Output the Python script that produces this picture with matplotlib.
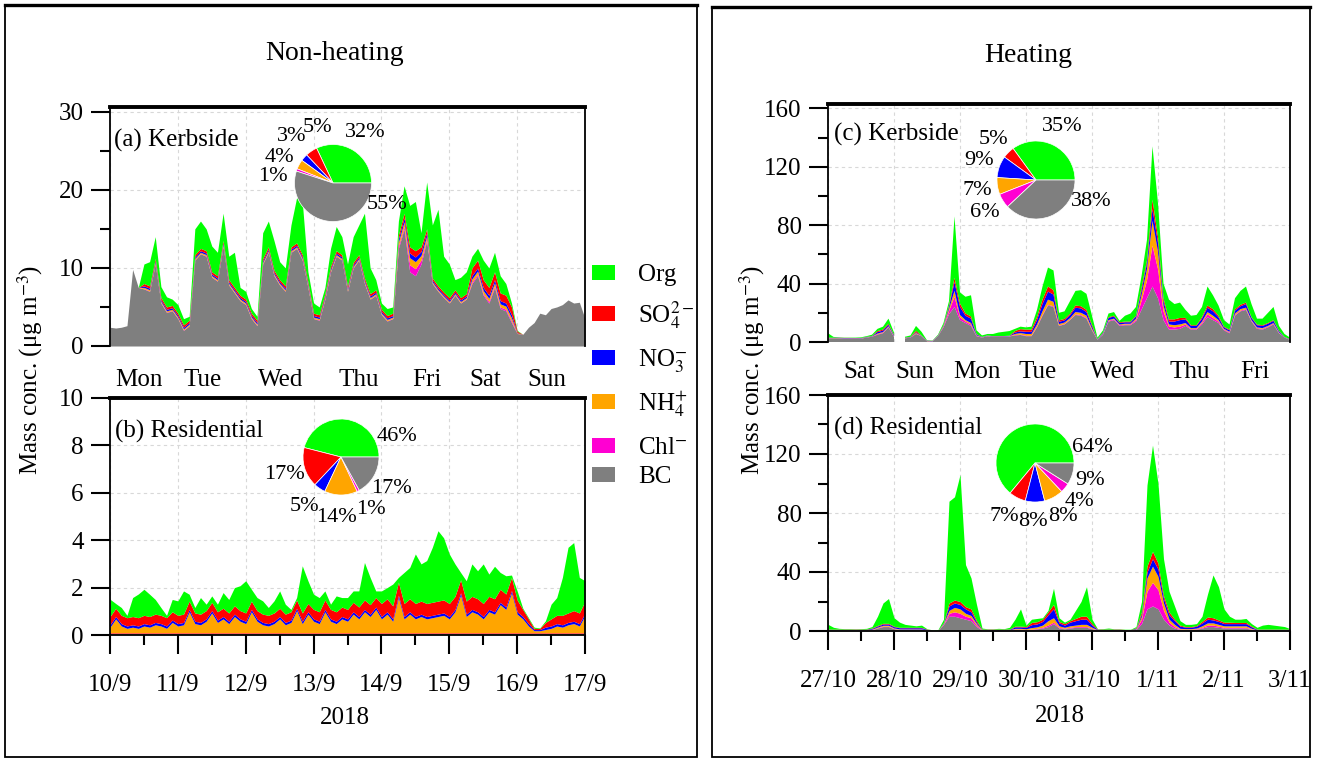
import numpy as np
import matplotlib
matplotlib.use("Agg")
import matplotlib.pyplot as plt
from matplotlib.patches import Rectangle
from matplotlib.lines import Line2D

plt.rcParams["font.family"] = "serif"
plt.rcParams["font.serif"] = ["Liberation Serif", "DejaVu Serif"]
plt.rcParams["mathtext.fontset"] = "stix"

nan = np.nan
STEP_H = 2  # sampling step of the series, hours

species = ["Org", "SO$_4^{2-}$", "NO$_3^{-}$", "NH$_4^{+}$", "Chl$^{-}$", "BC"]
species_colors = ["#00ff00", "#ff0000", "#0000ff", "#ffa500", "#ff00d2", "#7f7f7f"]

days_a = ["Mon", "Tue", "Wed", "Thu", "Fri", "Sat", "Sun"]
days_c = ["Sat", "Sun", "Mon", "Tue", "Wed", "Thu", "Fri"]
dates_b = ["10/9", "11/9", "12/9", "13/9", "14/9", "15/9", "16/9", "17/9"]
dates_d = ["27/10", "28/10", "29/10", "30/10", "31/10", "1/11", "2/11", "3/11"]

# pie shares, %: Org, SO4, NO3, NH4, Chl, BC
pie_a = [32, 5, 3, 4, 1, 55]
pie_b = [46, 17, 5, 14, 1, 17]
pie_c = [35, 5, 9, 7, 6, 38]
pie_d = [64, 7, 8, 8, 4, 9]

# ---- (a) kerbside, non-heating ----
bc_a = [
    2.4, 2.3, 2.4, 2.6, 9.8, 7.5, 7.3, 7.0, 10.5, 5.5, 4.3, 4.5,
    3.5, 2.0, 2.6, 11.0, 11.8, 11.5, 8.8, 8.3, 12.8, 7.8, 6.8, 5.8,
    5.3, 3.5, 2.6, 10.5, 12.0, 9.0, 7.8, 7.0, 12.0, 12.5, 11.0, 7.5,
    3.5, 3.3, 6.0, 9.5, 11.5, 11.0, 7.0, 10.0, 11.0, 8.0, 6.0, 6.5,
    4.0, 3.2, 3.5, 12.5, 15.0, 9.5, 9.0, 10.5, 13.5, 8.0, 7.0, 6.2,
    5.5, 6.5, 5.5, 6.0, 8.0, 9.0, 6.5, 5.5, 7.5, 4.8, 4.5, 3.0,
    1.6, 1.5, 2.4, 3.0, 4.2, 4.0, 4.8, 5.0, 5.3, 5.9, 5.5, 5.6,
    3.5,
]
chl_a = [
    nan, nan, nan, nan, nan, nan, 0.05, 0.05, 0.05, 0.05, 0.05, 0.05,
    0.05, 0.05, 0.05, 0.05, 0.05, 0.05, 0.05, 0.05, 0.05, 0.05, 0.05, 0.05,
    0.05, 0.05, 0.05, 0.05, 0.05, 0.05, 0.05, 0.05, 0.05, 0.05, 0.05, 0.05,
    0.05, 0.05, 0.05, 0.05, 0.05, 0.05, 0.05, 0.05, 0.05, 0.05, 0.05, 0.05,
    0.05, 0.05, 0.05, 0.3, 0.3, 0.9, 0.9, 0.5, 0.2, 0.05, 0.05, 0.05,
    0.05, 0.05, 0.05, 0.05, 0.2, 0.2, 0.2, 0.2, 0.2, 0.2, 0.2, 0.2,
    0.0, nan, nan, nan, nan, nan, nan, nan, nan, nan, nan, nan,
    nan,
]
nh4_a = [
    nan, nan, nan, nan, nan, nan, 0.15, 0.15, 0.15, 0.15, 0.15, 0.15,
    0.15, 0.15, 0.15, 0.15, 0.15, 0.15, 0.15, 0.15, 0.15, 0.15, 0.15, 0.15,
    0.15, 0.15, 0.15, 0.15, 0.15, 0.15, 0.15, 0.15, 0.15, 0.15, 0.15, 0.15,
    0.15, 0.15, 0.15, 0.15, 0.15, 0.15, 0.15, 0.15, 0.15, 0.15, 0.15, 0.15,
    0.15, 0.15, 0.15, 0.5, 0.6, 0.9, 0.9, 0.6, 0.4, 0.15, 0.15, 0.15,
    0.15, 0.15, 0.15, 0.15, 0.4, 0.4, 0.4, 0.4, 0.4, 0.4, 0.4, 0.4,
    0.05, nan, nan, nan, nan, nan, nan, nan, nan, nan, nan, nan,
    nan,
]
no3_a = [
    nan, nan, nan, nan, nan, nan, 0.2, 0.2, 0.2, 0.2, 0.2, 0.2,
    0.2, 0.2, 0.2, 0.2, 0.2, 0.2, 0.2, 0.2, 0.2, 0.2, 0.2, 0.2,
    0.2, 0.2, 0.2, 0.2, 0.2, 0.2, 0.2, 0.2, 0.2, 0.2, 0.2, 0.2,
    0.2, 0.2, 0.2, 0.2, 0.2, 0.2, 0.2, 0.2, 0.2, 0.2, 0.2, 0.2,
    0.2, 0.2, 0.2, 0.4, 0.5, 0.6, 0.6, 0.5, 0.4, 0.2, 0.2, 0.2,
    0.2, 0.2, 0.2, 0.2, 0.4, 0.4, 0.4, 0.4, 0.4, 0.4, 0.4, 0.4,
    0.05, nan, nan, nan, nan, nan, nan, nan, nan, nan, nan, nan,
    nan,
]
so4_a = [
    nan, nan, nan, nan, nan, nan, 0.3, 0.3, 0.3, 0.3, 0.3, 0.3,
    0.3, 0.3, 0.3, 0.3, 0.3, 0.3, 0.3, 0.3, 0.3, 0.3, 0.3, 0.3,
    0.3, 0.3, 0.3, 0.3, 0.3, 0.3, 0.3, 0.3, 0.3, 0.3, 0.3, 0.3,
    0.3, 0.3, 0.3, 0.3, 0.3, 0.3, 0.3, 0.3, 0.3, 0.3, 0.3, 0.3,
    0.3, 0.3, 0.3, 0.5, 0.6, 0.8, 0.8, 0.6, 0.5, 0.3, 0.3, 0.3,
    0.3, 0.3, 0.3, 0.3, 1.0, 1.0, 1.0, 1.0, 1.0, 1.0, 1.0, 1.0,
    0.2, nan, nan, nan, nan, nan, nan, nan, nan, nan, nan, nan,
    nan,
]
org_a = [
    nan, nan, nan, nan, nan, nan, 2.5, 3.1, 2.8, 1.4, 1.3, 0.8,
    1.1, 0.8, 0.5, 3.3, 3.5, 2.8, 3.3, 3.0, 3.5, 3.0, 4.5, 1.0,
    1.0, 0.6, 0.5, 3.3, 3.3, 3.8, 2.3, 2.3, 2.8, 5.8, 6.8, 1.3,
    1.3, 1.0, 0.8, 2.3, 3.1, 2.3, 2.8, 3.3, 3.8, 8.3, 3.3, 1.3,
    0.8, 0.9, 0.8, 1.8, 3.5, 5.3, 6.3, 1.8, 6.0, 6.8, 9.8, 4.6,
    4.3, 1.3, 2.6, 2.8, 1.5, 1.5, 2.5, 2.5, 2.5, 2.2, 1.5, 0.5,
    0.1, nan, nan, nan, nan, nan, nan, nan, nan, nan, nan, nan,
    nan,
]

# ---- (b) residential, non-heating ----
bc_b = [
    0.05, 0.05, 0.05, 0.05, 0.05, 0.05, 0.05, 0.05, 0.05, 0.05, 0.05, 0.05,
    0.05, 0.05, 0.05, 0.05, 0.05, 0.05, 0.05, 0.05, 0.05, 0.05, 0.05, 0.05,
    0.05, 0.05, 0.05, 0.05, 0.05, 0.05, 0.05, 0.05, 0.05, 0.05, 0.05, 0.05,
    0.05, 0.05, 0.05, 0.05, 0.05, 0.05, 0.05, 0.05, 0.05, 0.05, 0.05, 0.05,
    0.05, 0.05, 0.05, 0.05, 0.05, 0.05, 0.05, 0.05, 0.05, 0.05, 0.05, 0.05,
    0.05, 0.05, 0.05, 0.05, 0.05, 0.05, 0.05, 0.05, 0.05, 0.05, 0.05, 0.05,
    0.05, 0.05, 0.05, 0.05, 0.05, 0.05, 0.05, 0.05, 0.05, 0.05, 0.05, 0.05,
    0.05,
]
chl_b = [
    0.03, 0.03, 0.03, 0.03, 0.03, 0.03, 0.03, 0.03, 0.03, 0.03, 0.03, 0.03,
    0.03, 0.03, 0.03, 0.03, 0.03, 0.03, 0.03, 0.03, 0.03, 0.03, 0.03, 0.03,
    0.03, 0.03, 0.03, 0.03, 0.03, 0.03, 0.03, 0.03, 0.03, 0.03, 0.03, 0.03,
    0.03, 0.03, 0.03, 0.03, 0.03, 0.03, 0.03, 0.03, 0.03, 0.03, 0.03, 0.03,
    0.03, 0.03, 0.03, 0.03, 0.03, 0.03, 0.03, 0.03, 0.03, 0.03, 0.03, 0.03,
    0.03, 0.03, 0.03, 0.03, 0.03, 0.03, 0.03, 0.03, 0.03, 0.03, 0.03, 0.03,
    0.03, 0.03, 0.03, 0.03, 0.03, 0.03, 0.03, 0.03, 0.03, 0.03, 0.03, 0.03,
    0.03,
]
nh4_b = [
    0.25, 0.6, 0.3, 0.2, 0.25, 0.2, 0.3, 0.25, 0.35, 0.3, 0.2, 0.45,
    0.3, 0.35, 0.9, 0.4, 0.35, 0.5, 0.85, 0.45, 0.6, 0.4, 0.7, 0.5,
    0.4, 0.9, 0.5, 0.35, 0.3, 0.4, 0.6, 0.35, 0.45, 0.95, 0.4, 0.8,
    0.5, 0.4, 0.9, 0.5, 0.4, 0.6, 0.5, 0.8, 0.6, 0.9, 0.7, 1.0,
    0.6, 0.8, 0.5, 1.5, 0.6, 0.8, 0.6, 0.7, 0.6, 0.65, 0.7, 0.75,
    0.6, 0.9, 1.6, 0.7, 0.9, 0.8, 0.6, 0.9, 0.8, 1.2, 1.0, 1.7,
    0.8, 0.6, 0.3, 0.1, 0.1, 0.15, 0.2, 0.3, 0.25, 0.35, 0.4, 0.3,
    0.75,
]
no3_b = [
    0.1, 0.1, 0.1, 0.1, 0.1, 0.1, 0.1, 0.1, 0.1, 0.1, 0.1, 0.1,
    0.1, 0.1, 0.1, 0.1, 0.1, 0.1, 0.1, 0.1, 0.1, 0.1, 0.1, 0.1,
    0.1, 0.1, 0.1, 0.1, 0.1, 0.1, 0.1, 0.1, 0.1, 0.1, 0.1, 0.1,
    0.1, 0.1, 0.1, 0.1, 0.1, 0.1, 0.1, 0.1, 0.1, 0.1, 0.1, 0.1,
    0.1, 0.1, 0.1, 0.1, 0.1, 0.1, 0.1, 0.1, 0.1, 0.1, 0.1, 0.1,
    0.1, 0.1, 0.1, 0.1, 0.1, 0.1, 0.1, 0.1, 0.1, 0.1, 0.1, 0.1,
    0.1, 0.1, 0.1, 0.05, 0.05, 0.1, 0.1, 0.1, 0.1, 0.1, 0.1, 0.1,
    0.1,
]
so4_b = [
    0.35, 0.35, 0.35, 0.35, 0.35, 0.35, 0.35, 0.35, 0.35, 0.35, 0.35, 0.35,
    0.35, 0.35, 0.35, 0.35, 0.35, 0.35, 0.35, 0.35, 0.35, 0.35, 0.35, 0.35,
    0.35, 0.35, 0.35, 0.35, 0.35, 0.35, 0.35, 0.35, 0.35, 0.35, 0.35, 0.35,
    0.4, 0.4, 0.4, 0.4, 0.4, 0.4, 0.4, 0.4, 0.4, 0.4, 0.4, 0.4,
    0.55, 0.55, 0.55, 0.55, 0.55, 0.55, 0.55, 0.55, 0.55, 0.55, 0.55, 0.55,
    0.55, 0.55, 0.55, 0.55, 0.55, 0.55, 0.55, 0.55, 0.55, 0.55, 0.55, 0.55,
    0.5, 0.3, 0.2, 0.05, 0.05, 0.2, 0.3, 0.35, 0.4, 0.4, 0.45, 0.45,
    0.5,
]
org_b = [
    0.73, 0.2, 0.33, 0.1, 0.8, 1.0, 1.1, 0.94, 0.62, 0.33, 0.1, 0.52,
    0.61, 0.98, 0.29, 0.23, 0.7, 0.27, 0.27, 0.32, 0.66, 0.57, 0.77, 1.05,
    1.36, 0.5, 0.55, 0.56, 0.33, 0.51, 0.73, 0.42, 0.1, 0.1, 1.99, 0.96,
    0.64, 0.6, 0.38, 0.22, 0.67, 0.4, 0.5, 0.48, 0.68, 1.58, 1.15, 0.28,
    0.53, 0.47, 0.92, 0.2, 1.31, 1.32, 2.09, 1.57, 1.81, 2.32, 2.97, 2.62,
    2.09, 1.37, 0.31, 0.86, 1.37, 1.18, 1.67, 0.94, 1.37, 0.71, 0.77, 0.1,
    0.38, 0.05, 0.05, 0.05, 0.02, 0.07, 0.62, 0.75, 1.6, 2.77, 2.87, 1.5,
    0.86,
]

# ---- (c) kerbside, heating ----
bc_c = [
    2.5, 2.5, 2.5, 2.3, 2.3, 2.2, 2.3, 3.0, 3.6, 5.0, 6.0, 10.0,
    3.5, nan, 2.5, 3.0, 5.5, 4.0, 0.5, 0.3, 4.0, 10.0, 19.0, 24.0,
    15.0, 13.0, 11.0, 4.0, 3.0, 4.0, 3.5, 3.6, 3.6, 3.8, 4.5, 4.8,
    4.0, 4.0, 10.0, 18.0, 25.0, 24.0, 11.0, 12.0, 15.0, 18.5, 18.0, 16.0,
    8.0, 1.5, 5.0, 14.0, 15.0, 11.0, 11.5, 11.5, 14.0, 22.0, 30.0, 38.0,
    30.0, 15.0, 8.5, 8.5, 9.0, 11.0, 8.5, 8.5, 12.0, 17.0, 15.0, 13.0,
    8.0, 6.0, 18.0, 21.0, 22.0, 14.0, 9.0, 8.5, 10.0, 12.0, 6.0, 3.0,
    1.5,
]
chl_c = [
    0.1, 0.1, 0.1, 0.1, 0.1, 0.1, 0.1, 0.1, 0.1, 0.3, 0.3, 0.3,
    0.2, nan, 0.1, 0.1, 0.2, 0.1, 0.1, 0.1, 0.1, 0.5, 2.0, 7.0,
    2.0, 1.0, 1.0, 0.3, 0.1, 0.1, 0.1, 0.1, 0.1, 0.1, 0.3, 0.3,
    0.3, 0.3, 0.5, 0.5, 0.5, 0.5, 0.3, 0.3, 0.3, 0.5, 0.5, 0.5,
    0.3, 0.1, 0.3, 0.5, 0.5, 0.5, 0.5, 0.5, 1.0, 6.0, 12.0, 28.0,
    20.0, 6.0, 2.0, 1.5, 1.5, 1.0, 0.5, 0.5, 1.0, 2.0, 1.5, 1.0,
    0.5, 0.5, 0.5, 0.5, 0.5, 0.5, 0.5, 0.5, 0.5, 0.5, 0.3, 0.1,
    0.1,
]
nh4_c = [
    0.1, 0.1, 0.1, 0.1, 0.1, 0.1, 0.1, 0.1, 0.1, 0.5, 0.5, 0.5,
    0.3, nan, 0.1, 0.1, 0.5, 0.1, 0.1, 0.1, 0.1, 0.3, 1.5, 4.0,
    1.5, 1.0, 1.0, 0.3, 0.1, 0.1, 0.1, 0.1, 0.1, 0.1, 0.7, 1.0,
    1.2, 1.2, 1.5, 2.5, 3.5, 3.0, 1.0, 1.0, 1.0, 1.5, 1.5, 1.5,
    1.0, 0.1, 0.3, 0.5, 0.5, 0.5, 0.5, 0.5, 1.0, 4.0, 8.0, 17.0,
    12.0, 4.0, 1.5, 1.5, 1.5, 1.0, 0.5, 0.5, 1.0, 1.5, 1.5, 1.0,
    0.5, 0.5, 1.0, 1.0, 1.0, 0.5, 0.5, 0.5, 0.5, 0.5, 0.3, 0.1,
    0.1,
]
no3_c = [
    0.2, 0.2, 0.2, 0.2, 0.2, 0.2, 0.2, 0.2, 0.2, 1.0, 1.0, 1.0,
    0.6, nan, 0.2, 0.2, 0.5, 0.2, 0.2, 0.2, 0.2, 0.4, 1.5, 6.0,
    5.5, 3.0, 3.0, 0.6, 0.2, 0.2, 0.2, 0.2, 0.2, 0.2, 1.0, 1.2,
    1.5, 1.5, 3.0, 5.0, 5.5, 5.0, 1.5, 1.5, 2.0, 3.0, 3.0, 2.5,
    1.5, 0.2, 0.6, 1.5, 1.5, 1.0, 1.0, 1.0, 1.5, 3.0, 4.0, 8.0,
    6.0, 3.0, 2.0, 2.5, 3.0, 2.5, 1.5, 1.5, 2.0, 3.0, 3.0, 2.0,
    1.0, 1.0, 2.0, 2.0, 2.5, 1.5, 1.5, 1.5, 1.5, 1.5, 0.8, 0.2,
    0.2,
]
so4_c = [
    0.1, 0.1, 0.1, 0.1, 0.1, 0.1, 0.1, 0.1, 0.1, 0.7, 0.7, 0.7,
    0.4, nan, 0.1, 0.1, 1.0, 0.1, 0.1, 0.1, 0.1, 0.3, 1.0, 3.0,
    2.4, 1.5, 1.5, 0.3, 0.1, 0.1, 0.1, 0.1, 0.1, 0.1, 1.0, 1.5,
    1.5, 1.5, 2.0, 3.0, 3.5, 3.0, 1.0, 1.0, 1.0, 1.5, 1.5, 1.5,
    1.0, 0.1, 0.3, 0.5, 0.5, 0.5, 0.5, 0.5, 0.5, 2.0, 2.0, 6.5,
    4.0, 2.0, 1.5, 1.5, 1.5, 1.0, 0.5, 0.5, 1.0, 1.5, 1.5, 1.0,
    0.5, 0.5, 1.0, 1.0, 1.0, 0.5, 0.5, 0.5, 0.5, 0.5, 0.3, 0.1,
    0.1,
]
org_c = [
    3.0, 0.5, 0.2, 0.2, 0.2, 0.3, 0.4, 0.5, 0.9, 1.5, 2.0, 3.5,
    1.5, nan, 0.6, 1.0, 3.3, 2.5, 0.2, 0.2, 0.5, 1.5, 3.0, 42.0,
    7.6, 11.5, 14.5, 2.5, 1.0, 1.0, 1.5, 2.4, 2.9, 3.2, 1.5, 1.7,
    1.5, 2.0, 5.0, 9.0, 13.0, 13.5, 5.2, 5.2, 8.7, 10.0, 11.0, 11.0,
    6.2, 1.0, 1.5, 2.5, 2.5, 1.0, 4.0, 5.5, 6.0, 8.0, 14.0, 36.5,
    23.0, 10.0, 13.5, 10.5, 10.5, 5.5, 6.5, 7.0, 7.0, 13.0, 9.5, 7.0,
    4.5, 3.5, 7.5, 9.5, 11.0, 9.0, 4.0, 4.5, 7.0, 9.0, 3.3, 2.0,
    1.0,
]

# ---- (d) residential, heating ----
bc_d = [
    0.5, 0.5, 0.5, 0.5, 0.5, 0.5, 0.5, 0.5, 0.8, 2.0, 3.0, 3.0,
    1.5, 1.0, 1.0, 1.0, 1.0, 1.0, 0.5, 0.3, 0.3, 4.5, 10.0, 10.0,
    9.0, 8.0, 7.0, 3.0, 0.5, 0.5, 0.5, 0.5, 0.5, 0.5, 1.0, 1.0,
    0.8, 1.0, 1.5, 2.0, 3.0, 5.0, 2.0, 1.5, 2.0, 2.5, 2.5, 2.5,
    1.5, 0.5, 0.5, 0.5, 0.5, 0.5, 0.4, 0.4, 1.0, 5.0, 15.0, 17.0,
    15.0, 8.0, 4.0, 2.0, 1.0, 1.0, 1.0, 1.2, 2.0, 3.0, 3.0, 2.5,
    2.0, 2.0, 2.0, 2.0, 2.0, 1.0, 0.5, 0.5, 0.5, 0.5, 0.5, 0.5,
    0.5,
]
chl_d = [
    0.1, 0.1, 0.1, 0.1, 0.1, 0.1, 0.1, 0.1, 0.2, 0.2, 0.3, 0.3,
    0.2, 0.1, 0.1, 0.1, 0.1, 0.1, 0.1, 0.05, 0.05, 0.3, 2.0, 3.0,
    3.0, 2.0, 2.0, 1.0, 0.1, 0.1, 0.1, 0.1, 0.1, 0.1, 0.3, 0.3,
    0.2, 0.3, 0.3, 0.5, 1.0, 1.0, 0.5, 0.3, 0.5, 0.5, 0.5, 0.5,
    0.3, 0.1, 0.1, 0.1, 0.1, 0.1, 0.1, 0.1, 0.2, 3.0, 12.0, 16.0,
    13.0, 6.0, 2.0, 1.0, 0.3, 0.2, 0.2, 0.3, 0.5, 1.0, 1.0, 0.8,
    0.5, 0.5, 0.5, 0.5, 0.5, 0.3, 0.1, 0.1, 0.1, 0.1, 0.1, 0.1,
    0.1,
]
nh4_d = [
    0.2, 0.2, 0.2, 0.2, 0.2, 0.2, 0.2, 0.2, 0.3, 0.5, 0.6, 0.6,
    0.4, 0.3, 0.3, 0.3, 0.3, 0.3, 0.2, 0.1, 0.1, 0.3, 2.0, 3.0,
    3.0, 2.0, 1.5, 1.0, 0.2, 0.2, 0.2, 0.2, 0.2, 0.2, 0.5, 0.5,
    0.5, 1.0, 1.0, 1.5, 3.0, 3.0, 1.0, 0.7, 1.0, 1.0, 1.5, 1.5,
    0.7, 0.2, 0.2, 0.2, 0.2, 0.2, 0.2, 0.2, 0.3, 2.0, 9.0, 11.0,
    9.0, 5.0, 2.0, 1.5, 0.5, 0.4, 0.4, 0.5, 1.0, 1.5, 1.5, 1.2,
    1.0, 1.0, 1.0, 1.0, 1.0, 0.5, 0.2, 0.2, 0.2, 0.2, 0.2, 0.2,
    0.2,
]
no3_d = [
    0.3, 0.3, 0.3, 0.3, 0.3, 0.3, 0.3, 0.3, 0.5, 0.7, 0.8, 0.8,
    0.8, 0.8, 0.8, 0.8, 0.8, 0.8, 0.3, 0.1, 0.1, 0.4, 3.0, 3.0,
    3.0, 3.0, 2.5, 1.0, 0.3, 0.3, 0.3, 0.3, 0.3, 0.3, 1.0, 1.0,
    1.0, 2.0, 2.0, 2.5, 4.0, 6.0, 2.0, 1.5, 2.5, 3.0, 3.5, 3.5,
    1.5, 0.3, 0.3, 0.3, 0.3, 0.3, 0.2, 0.2, 0.4, 1.5, 4.0, 5.0,
    5.0, 3.0, 3.0, 2.5, 1.5, 1.0, 1.0, 1.2, 2.0, 2.5, 2.0, 2.0,
    1.5, 1.5, 1.5, 1.5, 1.5, 1.0, 0.3, 0.3, 0.3, 0.3, 0.3, 0.3,
    0.3,
]
so4_d = [
    0.2, 0.2, 0.2, 0.2, 0.2, 0.2, 0.2, 0.2, 0.3, 0.4, 0.5, 0.5,
    0.3, 0.3, 0.3, 0.3, 0.3, 0.3, 0.2, 0.05, 0.05, 0.3, 2.0, 2.0,
    2.0, 1.5, 2.0, 1.0, 0.2, 0.2, 0.2, 0.2, 0.2, 0.2, 0.5, 0.5,
    0.5, 1.5, 1.5, 1.5, 2.0, 3.0, 1.0, 1.0, 1.0, 1.5, 2.0, 2.0,
    1.0, 0.2, 0.2, 0.2, 0.2, 0.2, 0.1, 0.1, 0.3, 1.5, 4.0, 5.0,
    4.0, 2.0, 2.0, 1.0, 0.7, 0.4, 0.4, 0.5, 1.0, 1.5, 1.5, 1.0,
    1.0, 1.0, 0.8, 0.8, 0.8, 0.5, 0.2, 0.2, 0.2, 0.2, 0.2, 0.2,
    0.2,
]
org_d = [
    3.2, 1.2, 0.5, 0.3, 0.3, 0.2, 0.3, 0.5, 0.9, 6.2, 13.8, 16.8,
    5.8, 3.5, 2.0, 1.5, 1.0, 1.5, 0.2, 0.2, 0.4, 2.2, 69.0, 70.0,
    86.0, 28.5, 21.0, 11.0, 0.7, 0.2, 0.2, 0.5, 0.3, 1.2, 4.7, 11.7,
    1.0, 2.2, 2.2, 1.0, 1.0, 11.0, 2.5, 1.0, 1.0, 5.5, 10.0, 20.0,
    3.0, 0.2, 0.3, 0.7, 0.2, 0.2, 0.2, 0.2, 0.8, 7.0, 55.0, 72.0,
    54.0, 25.0, 14.0, 9.0, 3.0, 1.5, 1.5, 1.3, 3.5, 15.5, 29.0, 22.5,
    9.0, 4.0, 2.2, 2.2, 2.7, 1.7, 1.2, 2.7, 3.2, 2.7, 2.2, 1.7,
    0.3,
]

W, H = 1320, 761
fig = plt.figure(figsize=(W / 100, H / 100), dpi=100)

# stacking order, bottom to top
stack_colors = ["#7f7f7f", "#ff00d2", "#ffa500", "#0000ff", "#ff0000", "#00ff00"]


def px_axes(left, top, right, bottom):
    return fig.add_axes([left / W, 1 - bottom / H, (right - left) / W, (bottom - top) / H])


def draw_stack(ax, bc, chl, nh4, no3, so4, org):
    layers = np.array([bc, chl, nh4, no3, so4, org], dtype=float)
    t = np.arange(layers.shape[1]) * STEP_H / 24.0
    missing = np.isnan(layers[0])
    cum = np.cumsum(np.nan_to_num(layers), axis=0)
    cum[:, missing] = np.nan
    lower = np.where(missing, np.nan, 0.0)
    for k, col in enumerate(stack_colors):
        ax.fill_between(t, lower, cum[k], color=col, lw=0)
        lower = cum[k]


def style(ax, ymax, yticks, yminor=None, dates=None):
    ax.set_xlim(0, 7)
    ax.set_ylim(0, ymax)
    ax.set_yticks(yticks)
    if yminor is not None:
        ax.set_yticks(yminor, minor=True)
    ax.set_xticks(range(8))
    ax.grid(True, which="major", color="#d8d8d8", ls=(0, (3, 3)), lw=0.8)
    ax.set_axisbelow(True)
    ax.spines["top"].set_linewidth(2.8)
    for s in ("left", "right", "bottom"):
        ax.spines[s].set_linewidth(1.3)
    ax.tick_params(axis="y", which="major", direction="out", length=14, width=1.5,
                   labelsize=18, pad=5)
    ax.tick_params(axis="y", which="minor", direction="out", length=7, width=1.5)
    if dates is None:
        ax.spines["bottom"].set_visible(False)
        ax.tick_params(axis="x", length=0, labelbottom=False)
    else:
        ax.set_xticklabels(dates)
        ax.set_xticks(np.arange(0.5, 7, 1), minor=True)
        ax.tick_params(axis="x", which="major", direction="out", length=14, width=1.5,
                       labelsize=18, pad=14)
        ax.tick_params(axis="x", which="minor", direction="out", length=7, width=1.5)


def day_names(ax, names, positions, y):
    for name, x in zip(names, positions):
        ax.text(x, y, name, transform=ax.get_xaxis_transform(), ha="center",
                va="center", fontsize=18)


def draw_pie(cx, cy, r, shares, label_xy):
    pax = fig.add_axes([(cx - r) / W, 1 - (cy + r) / H, 2 * r / W, 2 * r / H])
    pax.pie(shares, colors=species_colors, startangle=0, counterclock=True, radius=1,
            wedgeprops=dict(edgecolor="white", linewidth=0.5))
    pax.set_xlim(-1, 1)
    pax.set_ylim(-1, 1)
    for share, (lx, ly) in zip(shares, label_xy):
        pax.text(lx, ly, f"{share}%", ha="center", va="center", fontsize=16)
    pax.axis("off")


# outer frames
for x0, x1, y0 in ((5, 697, 5), (712, 1310, 7)):
    fig.add_artist(Rectangle((x0 / W, 1 - 757 / H), (x1 - x0) / W, (757 - y0) / H,
                             transform=fig.transFigure, fill=False, lw=1.3, ec="black"))
    fig.add_artist(Line2D([x0 / W, x1 / W], [1 - y0 / H] * 2, lw=2.4, color="black",
                          transform=fig.transFigure))

fig.text(335 / W, 1 - 53 / H, "Non-heating", ha="center", va="center", fontsize=20)
fig.text(1028 / W, 1 - 55 / H, "Heating", ha="center", va="center", fontsize=20)

ax_a = px_axes(110, 107, 585, 346)
draw_stack(ax_a, bc_a, chl_a, nh4_a, no3_a, so4_a, org_a)
style(ax_a, 30.6, [0, 10, 20, 30], [5, 15, 25])
day_names(ax_a, days_a, [0.43, 1.37, 2.52, 3.66, 4.67, 5.53, 6.44], -0.142)
ax_a.text(0.008, 0.862, "(a) Kerbside", transform=ax_a.transAxes, va="center", fontsize=18)

ax_b = px_axes(110, 398, 585, 635)
draw_stack(ax_b, bc_b, chl_b, nh4_b, no3_b, so4_b, org_b)
style(ax_b, 10, [0, 2, 4, 6, 8, 10], dates=dates_b)
ax_b.text(0.01, 0.857, "(b) Residential", transform=ax_b.transAxes, va="center", fontsize=18)

ax_c = px_axes(828, 104, 1290, 342)
draw_stack(ax_c, bc_c, chl_c, nh4_c, no3_c, so4_c, org_c)
style(ax_c, 163, [0, 40, 80, 120, 160], [20, 60, 100, 140])
day_names(ax_c, days_c, [0.48, 1.32, 2.26, 3.18, 4.32, 5.48, 6.47], -0.126)
ax_c.text(0.013, 0.87, "(c) Kerbside", transform=ax_c.transAxes, va="center", fontsize=18)

ax_d = px_axes(828, 395, 1290, 631)
draw_stack(ax_d, bc_d, chl_d, nh4_d, no3_d, so4_d, org_d)
style(ax_d, 160, [0, 40, 80, 120, 160], [20, 60, 100, 140], dates=dates_d)
ax_d.text(0.013, 0.86, "(d) Residential", transform=ax_d.transAxes, va="center", fontsize=18)

fig.text(345 / W, 1 - 718 / H, "2018", ha="center", va="center", fontsize=18)
fig.text(1060 / W, 1 - 716 / H, "2018", ha="center", va="center", fontsize=18)

ylab = "Mass conc. (μg m$^{-3}$)"
fig.text(30 / W, 1 - 370 / H, ylab, rotation=90, ha="center", va="center", fontsize=18)
fig.text(752 / W, 1 - 370 / H, ylab, rotation=90, ha="center", va="center", fontsize=18)

# legend
for name, col, yc in zip(species, species_colors, [272, 313, 357, 401, 445, 474]):
    fig.add_artist(Rectangle((592 / W, 1 - (yc + 7.5) / H), 23 / W, 15 / H,
                             transform=fig.transFigure, fc=col, ec="none"))
    fig.text(638 / W, 1 - (yc + 9) / H, name, ha="left", va="baseline", fontsize=18)

# pies with percentage labels
draw_pie(333, 183, 38.5, pie_a,
         [(0.83, 1.30), (-0.39, 1.43), (-1.08, 1.22), (-1.40, 0.66), (-1.56, 0.18), (1.40, -0.57)])
draw_pie(341, 457, 38, pie_b,
         [(1.47, 0.53), (-1.5, -0.47), (-0.95, -1.30), (-0.12, -1.58), (0.80, -1.39), (1.34, -0.82)])
draw_pie(1036, 180, 39, pie_c,
         [(0.67, 1.36), (-1.10, 1.05), (-1.46, 0.49), (-1.51, -0.26), (-1.31, -0.83), (1.41, -0.56)])
draw_pie(1035, 463, 39, pie_d,
         [(1.46, 0.41), (-0.78, -1.38), (-0.05, -1.49), (0.72, -1.38), (1.15, -1.0), (1.41, -0.46)])

fig.savefig("out.png", dpi=100)
